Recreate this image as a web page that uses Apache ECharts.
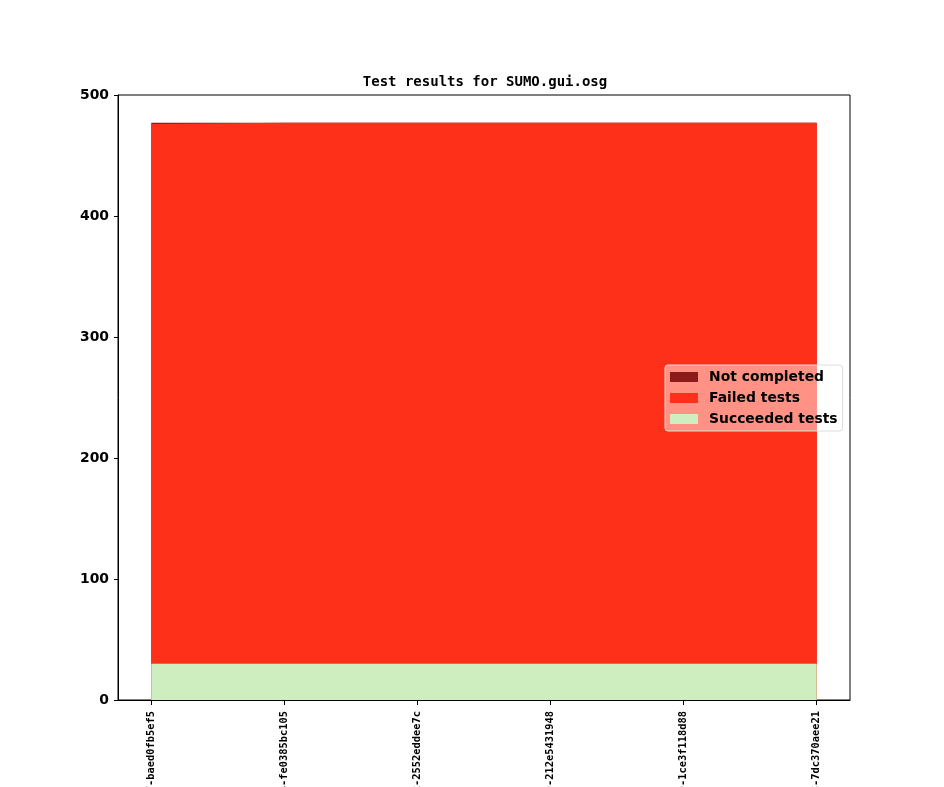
<!DOCTYPE html>
<html>
<head>
<meta charset="utf-8">
<script src="https://cdn.jsdelivr.net/npm/echarts@6/dist/echarts.min.js"></script>
<style>
  html, body { margin: 0; padding: 0; background: #fff; }
  #main { width: 944px; height: 787px; }
</style>
</head>
<body>
<div id="main"></div>
<script>
// revisions (x axis tick labels)
var revisions = [
    'v1_19_0+0517-baed0fb5ef5',
    'v1_19_0+0534-fe0385bc105',
    'v1_19_0+0552-2552eddee7c',
    'v1_19_0+0570-212e5431948',
    'v1_19_0+0589-1ce3f118d88',
    'v1_19_0+0603-7dc370aee21'
];
var succeeded = [30, 30, 30, 30, 30, 30];
var failed = [446, 447, 447, 447, 447, 447];
var notCompleted = [1, 0, 0, 0, 0, 0];

var xPos = revisions.map(function (r, i) { return i; });

// stack by hand: value x axis + stack does not behave here
function cumulate(lists) {
    return xPos.map(function (i) {
        var s = 0;
        lists.forEach(function (l) { s += l[i]; });
        return [i, s];
    });
}

function area(name, color, data, z) {
    return {
        name: name,
        type: 'line',
        data: data,
        color: color,
        z: z,
        symbol: 'none',
        lineStyle: { width: 0 },
        areaStyle: { color: color, opacity: 1, origin: 'start' },
        emphasis: { disabled: true }
    };
}

var myChart = echarts.init(document.getElementById('main'));
var option = {
    backgroundColor: '#fff',
    animation: false,
    title: {
        text: 'Test results for SUMO.gui.osg',
        left: 480,
        textAlign: 'center',
        top: 70,
        textStyle: {
            fontFamily: 'DejaVu Sans Mono',
            fontWeight: 'bold',
            fontSize: 14,
            color: '#000'
        }
    },
    legend: {
        orient: 'vertical',
        left: 665,
        top: 365,
        padding: [5, 5, 5, 5],
        itemGap: 7,
        itemWidth: 28,
        itemHeight: 10,
        backgroundColor: 'rgba(255,255,255,0.47)',
        borderColor: '#dddddd',
        borderWidth: 1,
        borderRadius: 3,
        data: [
            { name: 'Not completed', icon: 'rect' },
            { name: 'Failed tests', icon: 'rect' },
            { name: 'Succeeded tests', icon: 'rect' }
        ],
        textStyle: {
            fontFamily: 'DejaVu Sans',
            fontWeight: 'bold',
            fontSize: 13.9,
            lineHeight: 14,
            color: '#000',
            padding: [0, 0, 0, 6]
        }
    },
    grid: {
        left: 118,
        right: 94,
        top: 95,
        bottom: 87,
        show: true,
        borderColor: '#000',
        borderWidth: 1,
        outerBoundsMode: 'none',
        containLabel: false
    },
    xAxis: {
        type: 'value',
        min: -0.25,
        max: 5.25,
        splitLine: { show: false },
        axisLine: { onZero: false, lineStyle: { color: '#000', width: 1 } },
        axisTick: { length: 5, customValues: xPos, lineStyle: { color: '#000' } },
        axisLabel: {
            customValues: xPos,
            rotate: 90,
            margin: 11,
            fontFamily: 'DejaVu Sans Mono',
            fontWeight: 'bold',
            fontSize: 10.4,
            color: '#000',
            formatter: function (v) { return revisions[Math.round(v)]; }
        }
    },
    yAxis: {
        type: 'value',
        min: 0,
        max: 500,
        interval: 100,
        splitLine: { show: false },
        axisLine: { show: true, onZero: false, lineStyle: { color: '#000', width: 1 } },
        axisTick: { show: true, length: 4, lineStyle: { color: '#000' } },
        axisLabel: {
            margin: 9,
            fontFamily: 'DejaVu Sans',
            fontWeight: 'bold',
            fontSize: 13.9,
            color: '#000'
        }
    },
    series: [
        area('Not completed', '#8b1a1a', cumulate([succeeded, failed, notCompleted]), 2),
        area('Failed tests', '#ff3019', cumulate([succeeded, failed]), 3),
        area('Succeeded tests', '#cfeebf', cumulate([succeeded]), 4)
    ]
};
myChart.setOption(option);
</script>
</body>
</html>
